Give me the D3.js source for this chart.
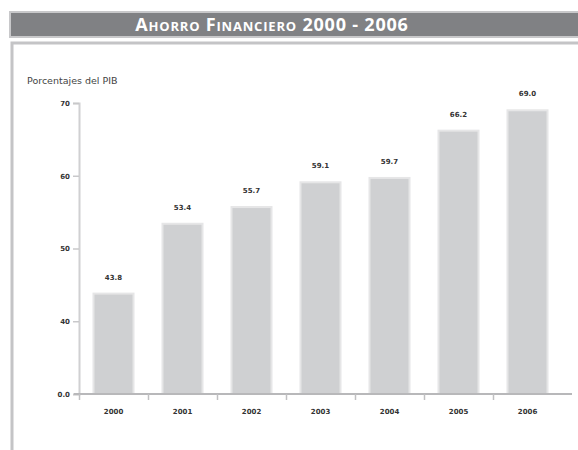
<!DOCTYPE html>
<html lang="es">
<head>
<meta charset="UTF-8">
<script src="https://cdn.jsdelivr.net/npm/d3@7"></script>
<style>
  html, body { margin: 0; padding: 0; background: #fff; }
  svg { display: block; }
</style>
</head>
<body>
<svg id="chart" width="578" height="450"></svg>
<script>
// data (porcentajes del PIB)
var years = ["2000", "2001", "2002", "2003", "2004", "2005", "2006"];
var values = [43.8, 53.4, 55.7, 59.1, 59.7, 66.2, 69.0];
var valueLabels = ["43.8", "53.4", "55.7", "59.1", "59.7", "66.2", "69.0"];
// axis is cut: baseline shown as 0.0, then 40..70
var tickValues = [30, 40, 50, 60, 70];
var tickLabels = ["0.0", "40", "50", "60", "70"];

var svg = d3.select("#chart");

// title bar
svg.append("rect").attr("x", 10).attr("y", 12).attr("width", 570).attr("height", 25)
  .attr("fill", "#808184").attr("stroke", "#c8c8ca").attr("stroke-width", 2);
svg.append("text").attr("x", 272).attr("y", 31).attr("text-anchor", "middle")
  .attr("font-family", "Open Sans").attr("font-weight", "bold").attr("font-size", 18)
  .attr("letter-spacing", 0.8)
  .style("font-variant", "small-caps").attr("fill", "#fff")
  .text("Ahorro Financiero 2000 - 2006");

// panel frame
svg.append("path").attr("d", "M12,450 V43 H580")
  .attr("fill", "none").attr("stroke", "#c4c4c6").attr("stroke-width", 3);

svg.append("text").attr("x", 27).attr("y", 84)
  .attr("font-family", "DejaVu Sans").attr("font-size", 9.5).attr("fill", "#444")
  .text("Porcentajes del PIB");

var x = d3.scaleBand().domain(years).range([79, 562]).paddingInner(0.42).paddingOuter(0.21);
var y = d3.scaleLinear().domain([30, 70]).range([394, 103]);

// y axis
var yAxis = svg.append("g").attr("transform", "translate(79,0)")
  .call(d3.axisLeft(y).tickValues(tickValues).tickSize(6).tickFormat(function (d, i) { return tickLabels[i]; }));
yAxis.select(".domain").attr("stroke", "#d0d0d2").attr("stroke-width", 2);
yAxis.selectAll(".tick line").attr("stroke", "#c8c8ca").attr("stroke-width", 1.5);
yAxis.selectAll(".tick text").attr("font-family", "DejaVu Sans").attr("font-weight", "bold")
  .attr("font-size", 7).attr("fill", "#333");

// bars
svg.selectAll("rect.bar").data(values).enter().append("rect").attr("class", "bar")
  .attr("x", function (d, i) { return x(years[i]); })
  .attr("y", function (d) { return y(d); })
  .attr("width", x.bandwidth())
  .attr("height", function (d) { return y(30) - y(d); })
  .attr("fill", "#cfd0d2").attr("stroke", "#e6e6e7").attr("stroke-width", 2);

// value labels
svg.selectAll("text.val").data(values).enter().append("text").attr("class", "val")
  .attr("x", function (d, i) { return x(years[i]) + x.bandwidth() / 2; })
  .attr("y", function (d) { return y(d) - 14; })
  .attr("text-anchor", "middle").attr("font-family", "DejaVu Sans").attr("font-weight", "bold")
  .attr("font-size", 7).attr("fill", "#333")
  .text(function (d, i) { return valueLabels[i]; });

// x axis
var step = x.step();
var xAxis = svg.append("g").attr("transform", "translate(0,394)")
  .call(d3.axisBottom(x).tickSize(0).tickPadding(15));
xAxis.select(".domain").remove();
svg.append("line").attr("x1", 74).attr("x2", 572).attr("y1", 394).attr("y2", 394)
  .attr("stroke", "#b8b8ba").attr("stroke-width", 2);
svg.selectAll("line.sep").data(d3.range(years.length)).enter().append("line").attr("class", "sep")
  .attr("x1", function (i) { return 79 + step * i + 0.5; })
  .attr("x2", function (i) { return 79 + step * i + 0.5; })
  .attr("y1", 394).attr("y2", 400).attr("stroke", "#c0c0c2").attr("stroke-width", 1.5);
xAxis.selectAll(".tick text").attr("font-family", "DejaVu Sans").attr("font-weight", "bold")
  .attr("font-size", 7).attr("fill", "#333");
</script>
</body>
</html>
